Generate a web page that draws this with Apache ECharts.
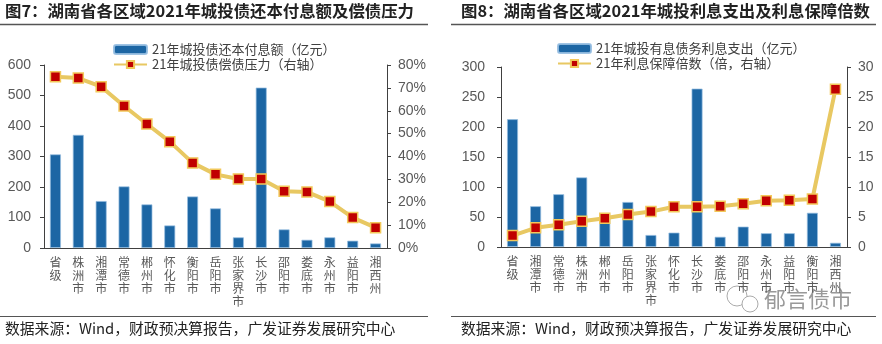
<!DOCTYPE html>
<html><head><meta charset="utf-8">
<script src="https://cdn.jsdelivr.net/npm/echarts@6/dist/echarts.min.js"></script>
<style>html,body{margin:0;padding:0;background:#fff}#c{width:882px;height:344px}</style>
</head><body><div id="c"></div>
<script>
// Chart 7 data
const cats1 = ['省级','株洲市','湘潭市','常德市','郴州市','怀化市','衡阳市','岳阳市','张家界市','长沙市','邵阳市','娄底市','永州市','益阳市','湘西州'];
const repay1 = [307,371,154,202,143,74,169,130,35,526,61,27,35,24,15];
const pressure1 = [74.9,74.3,70.5,62.1,54.2,46.5,37.2,32.2,30.2,30.2,24.8,24.5,20.3,13.3,8.9];
const leftTicks1 = [0,600,100];
const rightTicks1 = [0,80,10];
// Chart 8 data
const cats2 = ['省级','湘潭市','常德市','株洲市','郴州市','岳阳市','张家界市','怀化市','长沙市','娄底市','邵阳市','永州市','益阳市','衡阳市','湘西州'];
const interest2 = [213,68,88,116,55,75,20,24,264,17,34,23,23,57,7];
const coverage2 = [1.9,3.2,3.7,4.3,4.8,5.4,5.9,6.7,6.7,6.8,7.2,7.7,7.8,8.0,26.3];
const leftTicks2 = [0,300,50];
const rightTicks2 = [0,30,5];

const names = ['21年城投债还本付息额（亿元）','21年城投债偿债压力（右轴）','21年城投有息债务利息支出（亿元）','21年利息保障倍数（倍，右轴）'];

const barColor = '#1C66A4';
const lineColor = '#E8C862';
const axisGrey = '#595959';
const cjk = '"Noto Sans CJK SC", sans-serif';
const num = '"Liberation Sans", Arial, sans-serif';

function vlabel(v){ return v.split('').join('\n'); }

function xAxis(gi, cats){
  return {type:'category', gridIndex:gi, data:cats,
    axisLine:{lineStyle:{color:'#404040',width:1}}, axisTick:{show:false},
    axisLabel:{formatter:vlabel, fontFamily:cjk, fontSize:12, lineHeight:13, color:axisGrey, margin:8, interval:0}};
}
function yAxis(gi, t, pos, fmt, margin){
  return {type:'value', gridIndex:gi, position:pos, min:t[0], max:t[1], interval:t[2],
    splitLine:{show:false},
    axisLine:{show:true, lineStyle:{color:'#404040',width:1}},
    axisTick:{show:true, length:4, lineStyle:{color:'#404040'}},
    axisLabel:{fontFamily:num, fontSize:14, color:axisGrey, margin:margin, formatter:fmt}};
}
function bar(name, xi, yi, data){
  return {name, type:'bar', xAxisIndex:xi, yAxisIndex:yi, data, barWidth:11,
    itemStyle:{color:barColor, borderColor:'rgba(150,190,225,0.9)', borderWidth:0.8}};
}
function line(name, xi, yi, data){
  return {name, type:'line', xAxisIndex:xi, yAxisIndex:yi, data, symbol:'rect', symbolSize:10,
    lineStyle:{color:lineColor,width:4}, itemStyle:{color:'#C00000', borderColor:'#F2C85A', borderWidth:1.5}, z:5};
}
const legendText = {fontFamily:cjk, fontSize:13, color:'#404040'};

const chart = echarts.init(document.getElementById('c'), null, {renderer:'canvas'});
chart.setOption({
  animation:false,
  grid:[{left:44, right:495, top:65, bottom:96},{left:501, right:35, top:67, bottom:97}],
  xAxis:[xAxis(0,cats1), xAxis(1,cats2)],
  yAxis:[yAxis(0,leftTicks1,'left',null,13), yAxis(0,rightTicks1,'right','{value}%',11),
         yAxis(1,leftTicks2,'left',null,16), yAxis(1,rightTicks2,'right',null,11)],
  legend:[
    {data:[names[0],names[1]], orient:'vertical', left:108, top:38, itemGap:2, itemWidth:33, itemHeight:9, textStyle:legendText},
    {data:[names[2],names[3]], orient:'vertical', left:552, top:37, itemGap:2, itemWidth:33, itemHeight:9, textStyle:legendText}
  ],
  series:[bar(names[0],0,0,repay1), line(names[1],0,1,pressure1), bar(names[2],1,2,interest2), line(names[3],1,3,coverage2)],
  graphic:[
    {type:'text', left:5, top:3, style:{text:'图7：湖南省各区域2021年城投债还本付息额及偿债压力', font:'bold 16.4px '+cjk, fill:'#222'}},
    {type:'text', left:461, top:3, style:{text:'图8：湖南省各区域2021年城投利息支出及利息保障倍数', font:'bold 16.4px '+cjk, fill:'#222'}},
    {type:'line', shape:{x1:0,y1:24.5,x2:428,y2:24.5}, style:{stroke:'#555',lineWidth:1.5}},
    {type:'line', shape:{x1:451,y1:24.5,x2:876,y2:24.5}, style:{stroke:'#555',lineWidth:1.5}},
    {type:'line', shape:{x1:0,y1:316.5,x2:428,y2:316.5}, style:{stroke:'#555',lineWidth:1.2}},
    {type:'line', shape:{x1:451,y1:316.5,x2:876,y2:316.5}, style:{stroke:'#555',lineWidth:1.2}},
    {type:'text', left:5, top:321, style:{text:'数据来源：Wind，财政预决算报告，广发证券发展研究中心', font:'14.8px '+cjk, fill:'#222'}},
    {type:'text', left:461, top:321, style:{text:'数据来源：Wind，财政预决算报告，广发证券发展研究中心', font:'14.8px '+cjk, fill:'#222'}},
    {type:'circle', shape:{cx:737,cy:296,r:10}, style:{fill:'none',stroke:'#aaa',lineWidth:1}},
    {type:'circle', shape:{cx:750,cy:304,r:8}, style:{fill:'#fff',stroke:'#aaa',lineWidth:1}},
    {type:'text', left:764, top:288, style:{text:'郁言债市', font:'22px '+cjk, fill:'#999'}}
  ]
});
</script></body></html>
